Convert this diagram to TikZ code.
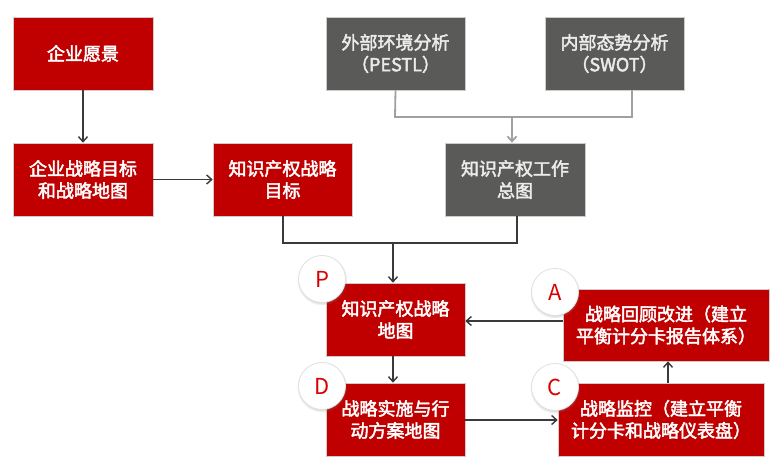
\documentclass[tikz,border=0pt]{standalone}
\usepackage{fontspec}
\setmainfont{Noto Sans CJK SC}[FakeBold=2.5]
\newfontfamily\letterfont{Noto Sans CJK SC}
\usetikzlibrary{arrows.meta,shadows}
\definecolor{bred}{HTML}{C00000}
\definecolor{bgray}{HTML}{5A5A58}
\definecolor{lgray}{HTML}{A0A0A0}
\definecolor{dline}{HTML}{3A3A3A}
\tikzset{
  box/.style={draw=white!80!black,line width=0.6pt,minimum width=#1,inner sep=0pt,text=white,align=center,font=\fontsize{18}{22}\selectfont},
  rbox/.style={box=#1,fill=bred},
  gbox/.style={box=#1,fill=bgray,text=white!92!black},
  conn/.style={draw=dline,line width=1.4pt,-{Straight Barb[length=5pt,width=9pt]}},
  gconn/.style={draw=lgray,line width=1.8pt},
  badge/.style={circle,fill=white,draw=black!12,line width=0.8pt,minimum size=47pt,inner sep=0pt,text=red!85!black,font=\letterfont\fontsize{22}{22}\selectfont,
    circular drop shadow={shadow xshift=0pt,shadow yshift=-1pt,shadow scale=1.08,opacity=0.35}},
}
\begin{document}
\begin{tikzpicture}[x=1pt,y=-1pt]
\useasboundingbox[fill=white] (0,0) rectangle (782,473);
% top row
\node[rbox=140pt,minimum height=73pt] (v) at (83,53.5) {企业愿景};
\node[gbox=139pt,minimum height=73pt] (ext) at (395.5,53.5) {外部环境分析\\（PESTL）};
\node[gbox=139pt,minimum height=73pt] (int) at (614.5,53.5) {内部态势分析\\（SWOT）};
% second row
\node[rbox=140pt,minimum height=73pt] (eg) at (83,179.5) {企业战略目标\\和战略地图};
\node[rbox=139pt,minimum height=73pt] (ipg) at (282.5,179.5) {知识产权战略\\目标};
\node[gbox=140pt,minimum height=73pt] (ipw) at (515,179.5) {知识产权工作\\总图};
% PDCA
\node[rbox=139pt,minimum height=73pt] (P) at (395.5,319.5) {知识产权战略\\地图};
\node[rbox=139pt,minimum height=73pt] (D) at (395.5,419.5) {战略实施与行\\动方案地图};
\node[rbox=206pt,minimum height=72pt] (A) at (666,325) {战略回顾改进（建立\\平衡计分卡报告体系）};
\node[rbox=206pt,minimum height=73pt] (C) at (661,419.5) {战略监控（建立平衡\\计分卡和战略仪表盘）};
% coordinates
\coordinate (j1) at (395,117);
\coordinate (j2) at (632,117);
\coordinate (j3) at (512,117);
\coordinate (k1) at (283,243);
\coordinate (k2) at (517,243);
\coordinate (k3) at (393,243);
% connectors
\draw[conn] (v) -- (eg);
\draw[conn] (eg) -- (ipg);
\draw[gconn] (ext.south) -- (j1) -- (j2) -- (j2 |- int.south);
\draw[gconn,-{Straight Barb[length=5pt,width=9pt]}] (j3) -- (j3 |- ipw.north);
\draw[draw=dline,line width=1.4pt] (k1 |- ipg.south) -- (k1) -- (k2) -- (k2 |- ipw.south);
\draw[conn] (k3) -- (k3 |- P.north);
\draw[conn] (P.south -| k3) -- (D.north -| k3);
\draw[conn] (A.west |- 0,321) -- (P.east |- 0,321);
\draw[conn] (D.east |- 0,420) -- (C.west |- 0,420);
\draw[conn] (C.north -| 668,0) -- (A.south -| 668,0);
% badges
\node[badge] (bP) at (322,279) {P};
\node[badge] (bD) at (322,386) {D};
\node[badge] (bA) at (555,292) {A};
\node[badge] (bC) at (555,387) {C};
\end{tikzpicture}
\end{document}
